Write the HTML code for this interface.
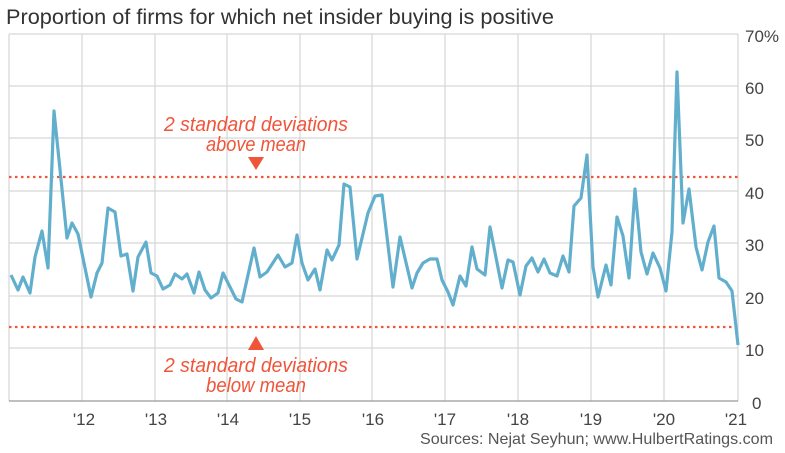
<!DOCTYPE html>
<html><head><meta charset="utf-8"><style>
body{margin:0;background:#fff;width:785px;height:453px;overflow:hidden}
svg{display:block}
text{font-family:"Liberation Sans",sans-serif}
</style></head><body>
<svg width="785" height="453" viewBox="0 0 785 453">
<text x="6" y="24" font-size="21" fill="#333" textLength="548" lengthAdjust="spacingAndGlyphs">Proportion of firms for which net insider buying is positive</text>
<g stroke="#d6d6d6" stroke-width="1.2">
<line x1="9" y1="34" x2="738" y2="34"/><line x1="9" y1="86" x2="738" y2="86"/><line x1="9" y1="138" x2="738" y2="138"/><line x1="9" y1="191" x2="738" y2="191"/><line x1="9" y1="243" x2="738" y2="243"/><line x1="9" y1="296" x2="738" y2="296"/><line x1="9" y1="348" x2="738" y2="348"/>
<line x1="9" y1="34" x2="9" y2="401"/><line x1="82" y1="34" x2="82" y2="401"/><line x1="155" y1="34" x2="155" y2="401"/><line x1="227" y1="34" x2="227" y2="401"/><line x1="300" y1="34" x2="300" y2="401"/><line x1="372" y1="34" x2="372" y2="401"/><line x1="445" y1="34" x2="445" y2="401"/><line x1="518" y1="34" x2="518" y2="401"/><line x1="591" y1="34" x2="591" y2="401"/><line x1="664" y1="34" x2="664" y2="401"/><line x1="738" y1="34" x2="738" y2="401"/>
</g>
<line x1="9" y1="401" x2="738" y2="401" stroke="#999" stroke-width="1.2"/>
<g font-size="17" fill="#444">
<text x="745" y="42">70%</text><text x="745" y="94">60</text><text x="745" y="146">50</text><text x="745" y="199">40</text><text x="745" y="251">30</text><text x="745" y="304">20</text><text x="745" y="356">10</text><text x="752" y="409">0</text>
</g>
<g font-size="17" fill="#444" text-anchor="middle">
<text x="84" y="425">'12</text><text x="156" y="425">'13</text><text x="228" y="425">'14</text><text x="300" y="425">'15</text><text x="373" y="425">'16</text><text x="445" y="425">'17</text><text x="518" y="425">'18</text><text x="591" y="425">'19</text><text x="664" y="425">'20</text><text x="736" y="425">'21</text>
</g>
<text x="420" y="444" font-size="16" fill="#555" textLength="353" lengthAdjust="spacingAndGlyphs">Sources: Nejat Seyhun; www.HulbertRatings.com</text>
<g stroke="#f0553a" stroke-width="2.2" stroke-dasharray="2.5,3.5">
<line x1="9" y1="177" x2="738" y2="177"/><line x1="9" y1="327" x2="738" y2="327"/>
</g>
<g fill="#f0553a" font-size="20" font-style="italic" text-anchor="middle">
<text x="256" y="131" textLength="184" lengthAdjust="spacingAndGlyphs">2 standard deviations</text><text x="256" y="151" textLength="100" lengthAdjust="spacingAndGlyphs">above mean</text>
<text x="256" y="372" textLength="184" lengthAdjust="spacingAndGlyphs">2 standard deviations</text><text x="256" y="392" textLength="100" lengthAdjust="spacingAndGlyphs">below mean</text>
</g>
<polygon points="248,157 264,157 256,170" fill="#f0553a"/>
<polygon points="248,350 264,350 256,336" fill="#f0553a"/>
<polyline fill="none" stroke="#62afcd" stroke-width="3.2" stroke-linejoin="round" points="11,275 18,290 23,277 30,293 35,257 42,231 48,268 54,111 67,238 72,223 78,234 91,297 97,273 102,263 108,208 115,212 121,256 127,254 133,291 138,257 146,242 151,273 157,276 163,289 170,285 175,274 182,279 187,274 194,293 199,272 205,290 211,298 218,293 223,273 236,299 242,302 254,248 260,277 267,272 278,255 285,267 292,263 297,235 302,263 308,280 315,269 320,290 327,250 332,260 339,245 344,184 350,187 357,259 368,213 375,196 382,195 393,287 400,237 412,288 417,273 423,263 430,259 437,259 442,280 448,292 453,305 460,276 466,286 472,247 477,269 485,275 490,227 502,288 508,260 513,262 520,295 526,266 532,258 538,272 544,259 550,273 557,276 563,256 569,272 574,206 581,198 587,155 593,267 598,297 606,265 611,285 617,217 623,236 629,278 635,189 641,252 647,274 653,253 660,268 666,291 672,232 677,72 683,223 689,189 696,247 702,270 708,242 714,226 719,278 726,282 732,291 738,345"/>
</svg>
</body></html>
